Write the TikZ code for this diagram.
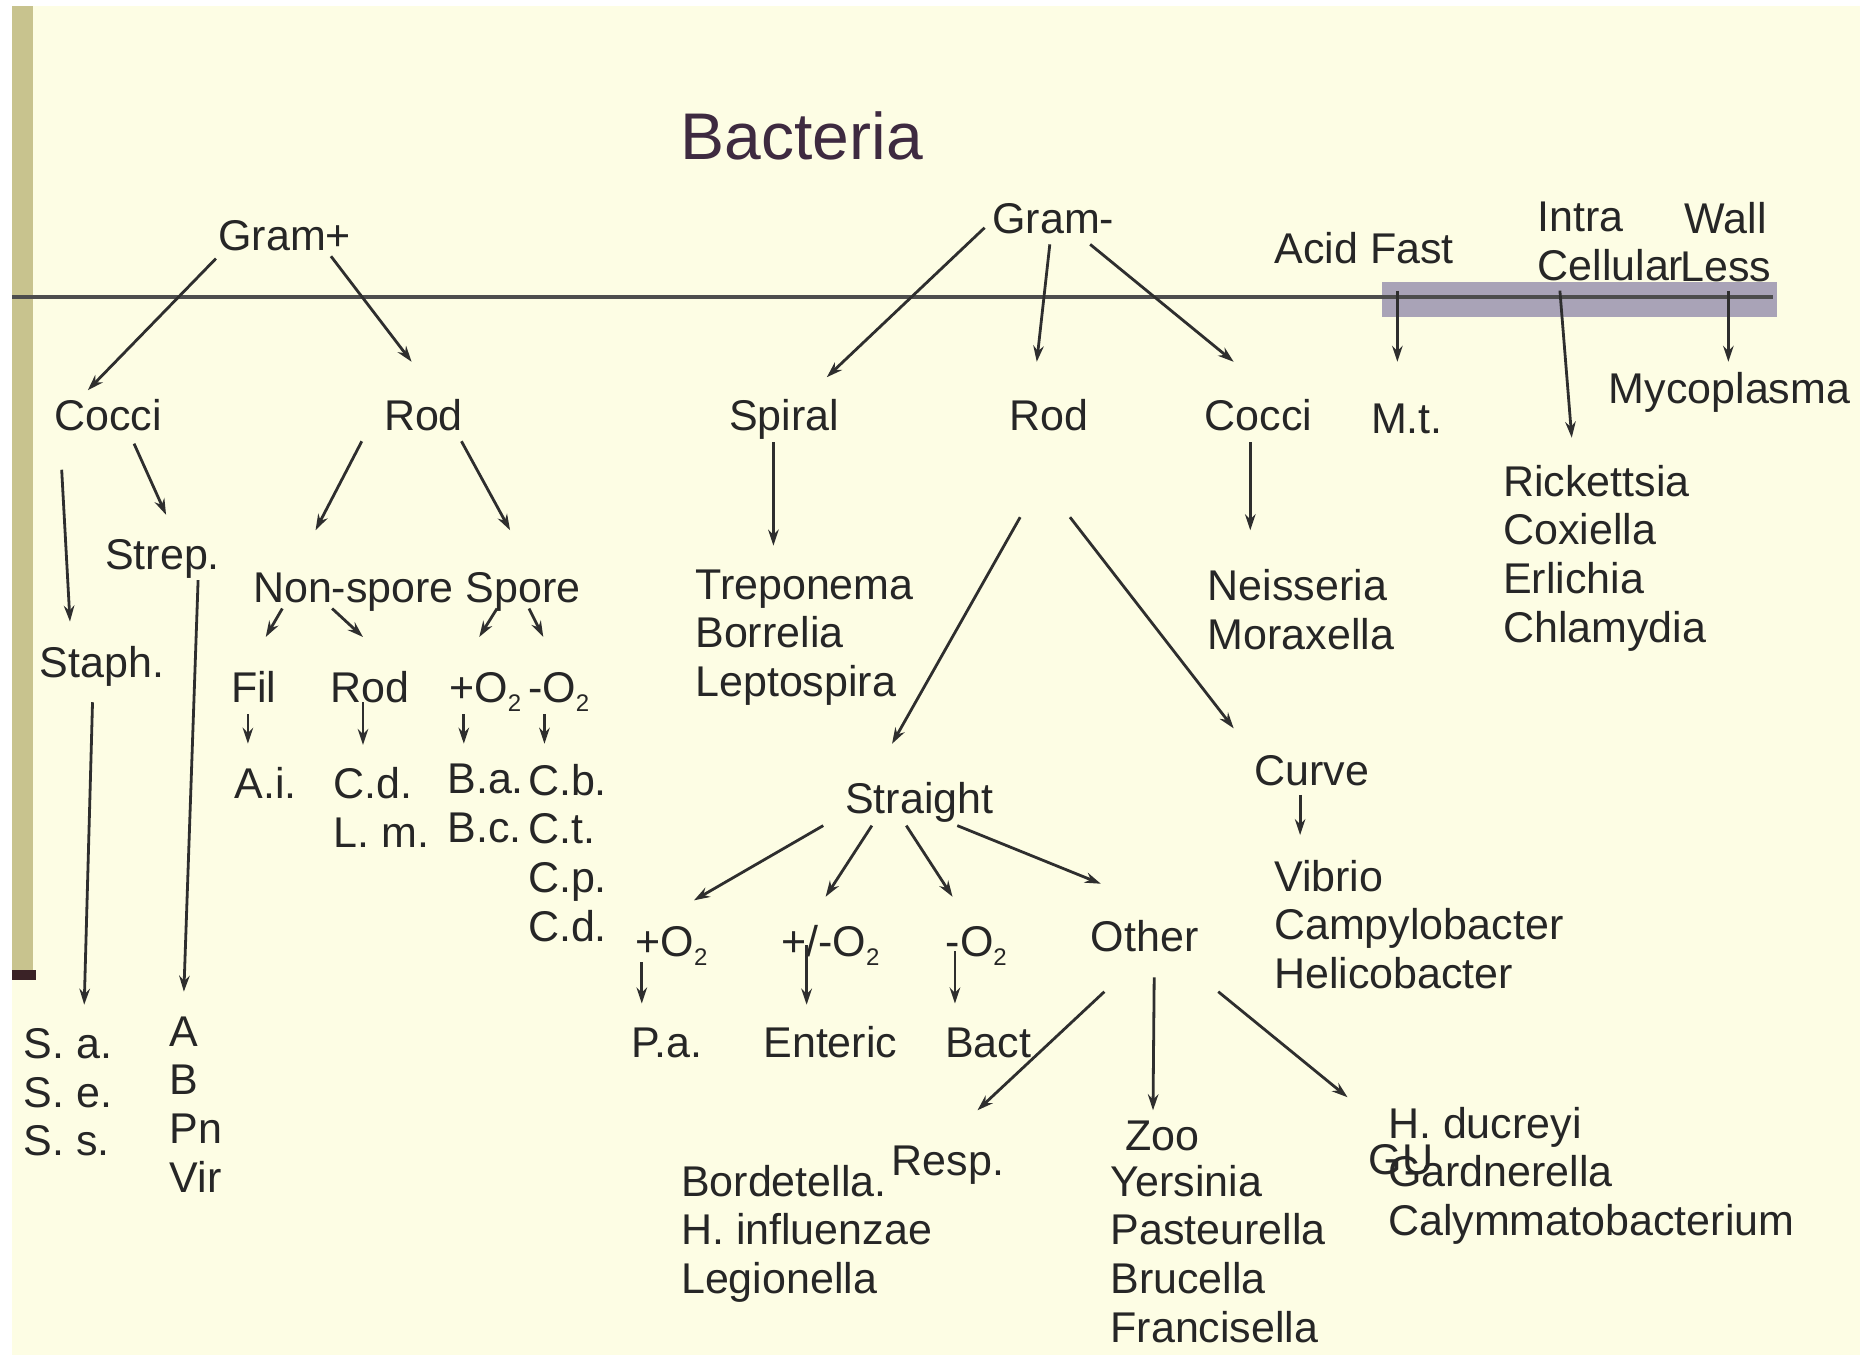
\documentclass[tikz,border=0pt]{standalone}
\usepackage{fontspec}
\setmainfont{Liberation Sans}
\usetikzlibrary{arrows.meta}
\definecolor{bg}{HTML}{FDFDE4}
\definecolor{barc}{HTML}{C8C38E}
\definecolor{tickc}{HTML}{3A2226}
\definecolor{ink}{HTML}{262626}
\definecolor{linec}{HTML}{2E2E2E}
\definecolor{band}{HTML}{A9A3B7}
\definecolor{titlec}{HTML}{3E2A40}
\newcommand\Osub{O\raisebox{-0.4ex}{\fontsize{24}{24}\selectfont 2}}
\begin{document}
\begin{tikzpicture}[x=1.1862pt,y=-1.1862pt,
 lbl/.style={inner sep=0pt, text height=31pt, text depth=0pt, anchor=center, text=ink, font=\fontsize{43}{48.6}\selectfont},
 lst/.style={inner sep=0pt, anchor=north west, align=left, text=ink, font=\fontsize{43}{48.6}\selectfont},
 arr/.style={draw=linec, line width=2.8pt, -{Stealth[length=16pt,width=10.5pt]}},
]
\useasboundingbox (0,0) rectangle (1568,1142);
\fill[white] (0,0) rectangle (1568,1142);
\fill[bg] (10,5) rectangle (1568,1142);
\fill[barc] (10,5) rectangle (28,823);
\fill[tickc] (10,818) rectangle (30,826);
\fill[band] (1165,238) rectangle (1498,267);
\draw[linec!85, line width=4pt] (10,250) -- (1495,250);

% title
\node[inner sep=0pt, text height=47pt, text depth=0pt, text=titlec, font=\fontsize{66}{70}\selectfont] (title) at (676,115) {Bacteria};

% top level
\node[lbl] (gp) at (240,198) {Gram+};
\node[lbl] (gm) at (888,184) {Gram-};
\node[lbl] (af) at (1150,209) {Acid Fast};
\node[lst] (intra) at (1296,170) {Intra\\Cellular};
\node[lst, anchor=north, align=center] (wall) at (1455,170) {Wall\\Less};

% gram positive
\node[lbl] (c1) at (91,350) {Cocci};
\node[lbl] (r1) at (357,350) {Rod};
\node[lbl] (strep) at (137,467) {Strep.};
\node[lbl] (staph) at (86,558) {Staph.};
\node[lbl] (ns) at (298,495) {Non-spore};
\node[lbl] (sp) at (441,495) {Spore};
\node[lbl] (fil) at (214,579) {Fil};
\node[lbl] (r2) at (312,579) {Rod};
\node[lbl] (po) at (409,579) {+\Osub};
\node[lbl] (mo) at (471,579) {-\Osub};
\node[lbl] (ai) at (224,660) {A.i.};
\node[lst] (cdlm) at (281,647) {C.d.\\L. m.};
\node[lst] (babc) at (377,644) {B.a.\\B.c.};
\node[lst] (cb) at (445,644) {C.b.\\C.t.\\C.p.\\C.d.};
\node[lst] (sa) at (20,867) {S. a.\\S. e.\\S. s.};
\node[lst] (ab) at (143,857) {A\\B\\Pn\\Vir};

% gram negative
\node[lbl] (spiral) at (661,350) {Spiral};
\node[lbl] (rod3) at (884,350) {Rod};
\node[lbl] (cocci2) at (1061,350) {Cocci};
\node[lbl] (mt) at (1186,352) {M.t.};
\node[lst] (trep) at (586,480) {Treponema\\Borrelia\\Leptospira};
\node[lst] (neis) at (1018,480) {Neisseria\\Moraxella};
\node[lbl] (myco) at (1458,327) {Mycoplasma};
\node[lst] (rick) at (1267,392) {Rickettsia\\Coxiella\\Erlichia\\Chlamydia};
\node[lbl] (straight) at (775,673) {Straight};
\node[lbl] (curve) at (1106,649) {Curve};
\node[lst] (vib) at (1074,725) {Vibrio\\Campylobacter\\Helicobacter};
\node[lbl] (o1) at (566,793) {+\Osub};
\node[lbl] (o2) at (700,793) {+/-\Osub};
\node[lbl] (o3) at (823,793) {-\Osub};
\node[lbl] (other) at (965,789) {Other};
\node[lbl] (pa) at (562,878) {P.a.};
\node[lbl] (ent) at (700,878) {Enteric};
\node[lbl] (bact) at (833,878) {Bact};
\node[lbl] (resp) at (799,978) {Resp.};
\node[lbl] (zoo) at (980,957) {Zoo};
\node[lst] (bord) at (574,982) {Bordetella.\\H. influenzae\\Legionella};
\node[lst] (yers) at (936,982) {Yersinia\\Pasteurella\\Brucella\\Francisella};
\node[lst] (hdu) at (1170,933) {H. ducreyi\\Gardnerella\\Calymmatobacterium};
\node[lbl] (gu) at (1181,977) {GU};

% arrows gram positive
\draw[arr] ([shift={(-58,20)}]gp.center) -- ([shift={(-17,-21)}]c1.center);
\draw[arr] ([shift={(39,18)}]gp.center) -- ([shift={(-10,-45)}]r1.center);
\draw[arr] ([shift={(-39,46)}]c1.center) -- ([shift={(-27,-34)}]staph.center);
\draw[arr] ([shift={(22,24)}]c1.center) -- ([shift={(3,-33)}]strep.center);
\draw[arr] ([shift={(-52,22)}]r1.center) -- ([shift={(-32,-48)}]ns.center);
\draw[arr] ([shift={(32,22)}]r1.center) -- ([shift={(-11,-48)}]sp.center);
\draw[arr] ([shift={(-60,18)}]ns.center) -- ([shift={(10,-42)}]fil.center);
\draw[arr] ([shift={(-18,18)}]ns.center) -- ([shift={(-6,-42)}]r2.center);
\draw[arr] ([shift={(-22,18)}]sp.center) -- ([shift={(-5,-42)}]po.center);
\draw[arr] ([shift={(5,18)}]sp.center) -- ([shift={(-13,-42)}]mo.center);
\draw[arr] ([shift={(-5,23)}]fil.center) -- ([shift={(-15,-33)}]ai.center);
\draw[arr] ([shift={(-6,13)}]r2.center) -- ([shift={(25,-19)}]cdlm.north west);
\draw[arr] ([shift={(-18,23)}]po.center) -- ([shift={(14,-17)}]babc.north west);
\draw[arr] ([shift={(-12,23)}]mo.center) -- ([shift={(14,-17)}]cb.north west);
\draw[arr] ([shift={(-8,34)}]staph.center) -- ([shift={(51,-20)}]sa.north west);
\draw[arr] ([shift={(30,22)}]strep.center) -- ([shift={(12,-21)}]ab.north west);

% arrows gram negative
\draw[arr] ([shift={(-58,8)}]gm.center) -- ([shift={(36,-32)}]spiral.center);
\draw[arr] ([shift={(-3,22)}]gm.center) -- ([shift={(-10,-45)}]rod3.center);
\draw[arr] ([shift={(31,22)}]gm.center) -- ([shift={(-21,-45)}]cocci2.center);
\draw[arr] ([shift={(-9,23)}]spiral.center) -- ([shift={(66,-20)}]trep.north west);
\draw[arr] ([shift={(-7,23)}]cocci2.center) -- ([shift={(36,-33)}]neis.north west);
\draw[arr] ([shift={(-24,86)}]rod3.center) -- ([shift={(-23,-46)}]straight.center);
\draw[arr] ([shift={(18,86)}]rod3.center) -- ([shift={(-66,-35)}]curve.center);
\draw[arr] ([shift={(-81,23)}]straight.center) -- ([shift={(19,-34)}]o1.center);
\draw[arr] ([shift={(-40,23)}]straight.center) -- ([shift={(-4,-37)}]o2.center);
\draw[arr] ([shift={(-11,23)}]straight.center) -- ([shift={(-20,-37)}]o3.center);
\draw[arr] ([shift={(32,23)}]straight.center) -- ([shift={(-37,-44)}]other.center);
\draw[arr] ([shift={(-25,18)}]o1.center) -- ([shift={(-21,-32)}]pa.center);
\draw[arr] ([shift={(-20,4)}]o2.center) -- ([shift={(-20,-31)}]ent.center);
\draw[arr] ([shift={(-18,9)}]o3.center) -- ([shift={(-28,-32)}]bact.center);
\draw[arr] ([shift={(-34,47)}]other.center) -- ([shift={(25,-42)}]resp.center);
\draw[arr] ([shift={(8,35)}]other.center) -- ([shift={(-8,-21)}]zoo.center);
\draw[arr] ([shift={(62,47)}]other.center) -- ([shift={(-34,-8)}]hdu.north west);
\draw[arr] ([shift={(-10,21)}]curve.center) -- ([shift={(22,-21)}]vib.north west);

% arrows right group
\draw[arr] ([shift={(28,36)}]af.center) -- ([shift={(-8,-47)}]mt.center);
\draw[arr] ([shift={(19,75)}]intra.north west) -- ([shift={(58,-23)}]rick.north west);
\draw[arr] ([shift={(2,75)}]wall.north) -- ([shift={(-1,-22)}]myco.center);
\end{tikzpicture}
\end{document}
